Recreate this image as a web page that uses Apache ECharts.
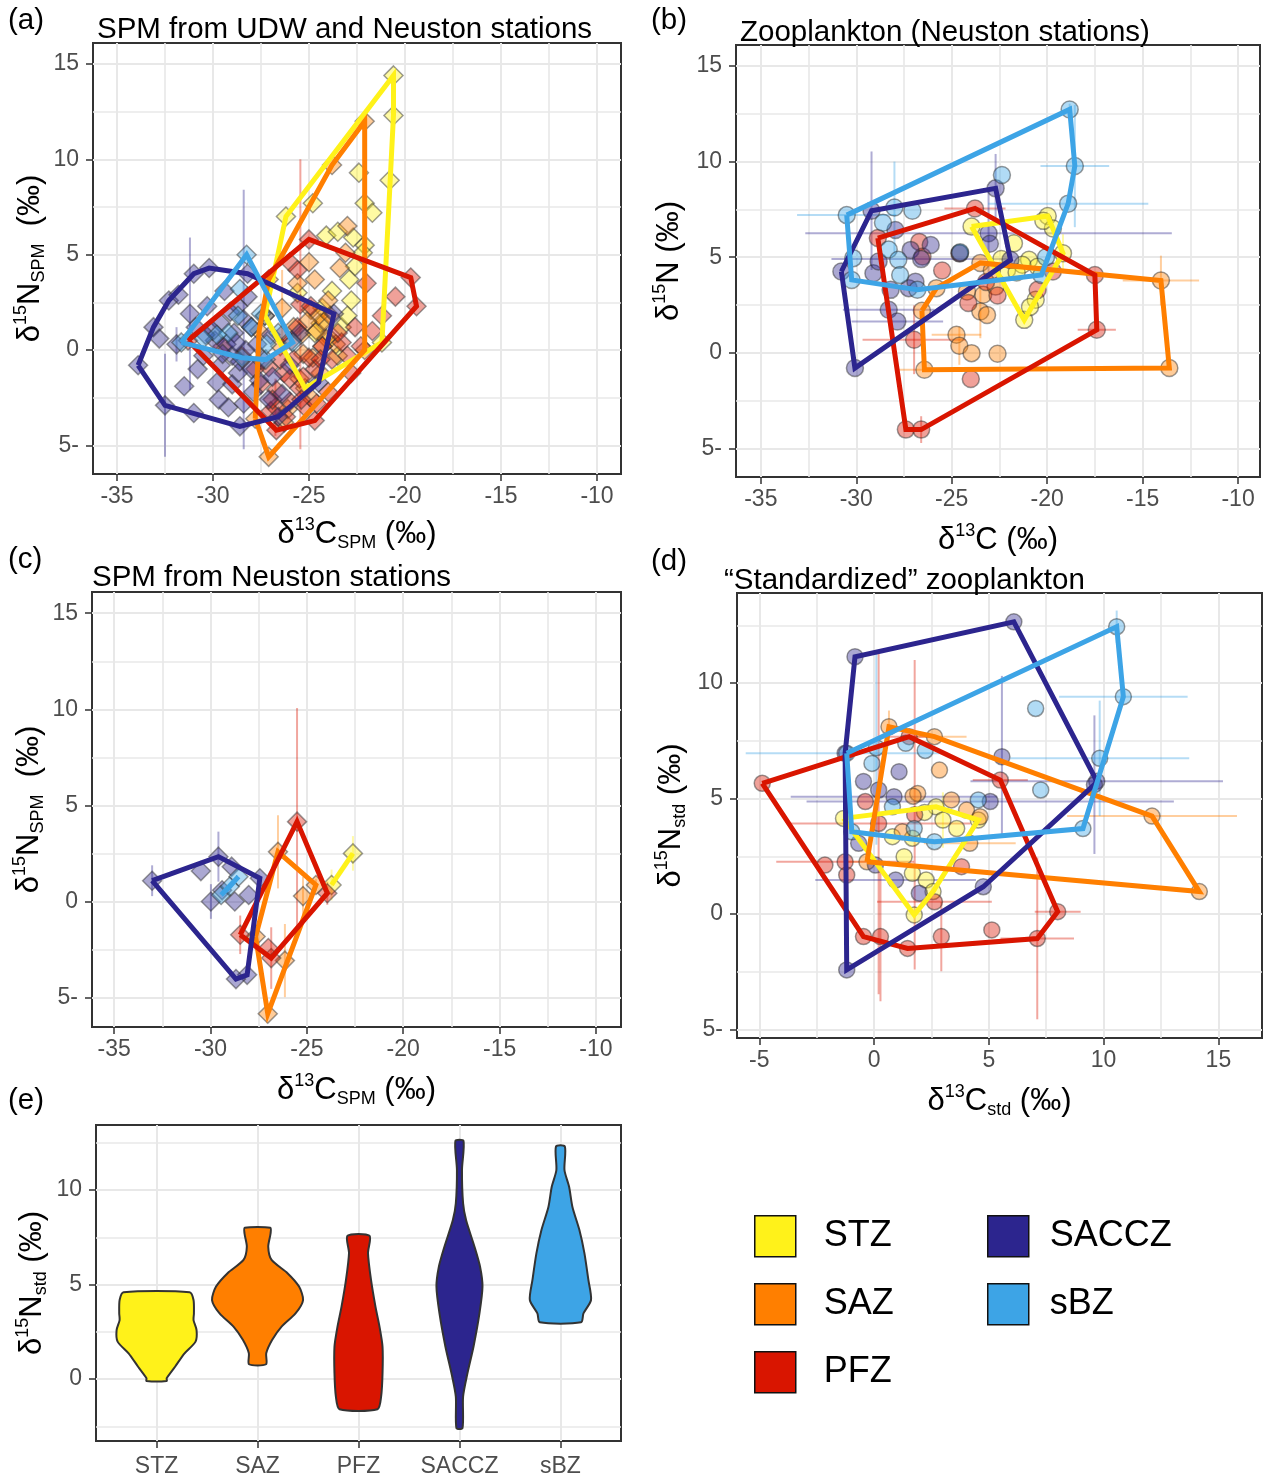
<!DOCTYPE html>
<html><head><meta charset="utf-8">
<script src="https://cdn.jsdelivr.net/npm/echarts@6/dist/echarts.min.js"></script>
<style>html,body{margin:0;padding:0;background:#fff}#c{width:1266px;height:1479px}</style>
</head><body><div id="c"></div>
<script>
// ---------------- DATA ----------------
const ZONES = ['STZ','SAZ','PFZ','SACCZ','sBZ'];
const COLORS = ['#FFF21A','#FF7F00','#D91500','#2C258E','#3DA4E6'];

// point arrays: [x, y, xErrHalf, yErrHalf]
// (a) SPM from UDW and Neuston stations
const aSTZ = [[-20.6,14.4,0,0],[-20.6,12.3,0,0],[-20.8,8.9,0,0],[-21.2,0.4,0,0],[-25.2,-2.0,0,0],[-27.3,1.8,0,0],[-26.2,7.0,0,0],
 [-22.4,9.3,0,0],[-22.1,7.7,0,0],[-21.7,7.2,0,0],[-24.8,7.7,0,0],[-24.1,6.0,0,0],[-23.5,6.2,0,0],[-22.7,5.9,0,0],[-22.1,5.5,0,0],
 [-22.2,5.1,0,0],[-22.9,3.7,0,0],[-23.8,3.1,0,0],[-22.8,2.6,0,0],[-23.3,1.2,0,0],[-23.5,-0.3,0,0],[-24.7,0.9,0,0],[-24.3,2.2,0,0],
 [-23.0,1.8,0,0],[-25.6,3.0,0,0],[-24.4,1.4,0,0],[-23.9,0.6,0,0],[-22.6,4.4,0,0]];
const aSAZ = [[-22.1,12.0,0,0],[-22.1,0.0,0,0],[-27.1,-5.6,0,0],[-27.8,-3.6,0,0],[-27.6,1.0,0,0],[-27.1,3.7,0,0],[-23.8,9.7,0,0],
 [-23.0,6.5,0,0],[-23.1,5.1,0,0],[-24.7,3.7,0,0],[-25.6,3.5,0,0],[-24.0,2.6,0,0],[-24.9,2.1,0,0],[-24.6,1.0,0,0],[-25.3,-0.2,0,0],
 [-24.9,-2.5,0,0],[-26.1,-3.1,0,0],[-26.3,-3.8,0,0],[-24.2,1.5,0,0],[-23.6,0.3,0,0],[-25.8,1.2,0,0],[-26.5,0.2,0,0],[-24.4,-1.2,0,0],
 [-23.4,4.3,0,0],[-25.0,4.6,0,0],[-26.4,2.2,0,2.0],[-24.5,1.8,0,0],[-24.1,0.6,0,0],[-25.1,1.5,0,0],[-23.9,1.8,0,0],[-24.8,-0.4,0,0],
 [-25.5,-1.5,0,0],[-24.3,0.2,0,0],[-25.4,0.8,0,0]];
const aPFZ = [[-25.0,5.8,0,0],[-19.7,3.8,0,0],[-19.4,2.3,0,0],[-24.7,-3.7,0,0],[-26.7,-4.2,0,0],[-31.3,0.5,0,0],[-26.0,4.6,0,0],
 [-25.6,4.2,0,0],[-21.7,1.0,0,0],[-23.3,0.4,0,0],[-22.6,1.2,0,0],[-26.3,-1.2,0,0],[-25.3,-1.4,0,0],[-26.7,-2.1,0,0],[-25.8,-0.5,0,0],
 [-24.7,-1.0,0,0],[-27.1,-0.9,0,0],[-23.8,-0.5,0,0],[-22.8,-1.2,0,0],[-25.45,2.4,0,7.6],[-24.3,0.2,0,0],[-26.0,-2.7,0,0],
 [-25.2,-3.0,0,0],[-27.5,-1.8,0,0],[-28.5,-0.3,0,0],[-29.5,0.2,0,0],[-24.0,-2.2,0,0],[-23.0,-0.3,0,0],[-25.6,1.2,0,0],
 [-26.4,0.8,0,0],[-24.9,2.3,0,0],[-26.75,-3.0,0,1.5],[-26.0,-1.5,0,0],[-25.5,-2.0,0,0],[-26.5,-0.5,0,0],[-25.0,-0.4,0,0],
 [-24.4,-0.5,0,0],[-25.9,0.5,0,0],[-26.2,-3.5,0,0],[-25.4,-2.6,0,0],[-27.0,-3.2,0,0],[-24.6,-2.8,0,0],[-23.5,0.9,0,0],
 [-22.3,0.2,0,0],[-21.2,1.8,0,0],[-20.5,2.8,0,0],[-22.0,3.5,0,0],[-27.8,-1.0,0,0],[-26.9,-2.6,0,0]];
const aSACCZ = [[-33.9,-0.8,0,0],[-32.5,-2.9,0,2.7],[-31.0,-3.3,0,0],[-28.6,-4.0,0,0],[-26.6,-3.5,0,0],[-24.5,-1.7,0,0],[-23.7,1.9,0,0],
 [-28.2,4.0,0,0],[-30.2,4.3,0,0],[-31.0,4.0,0,0],[-32.3,2.6,0,0],[-33.1,1.2,0,0],[-31.9,0.3,0,0.9],[-30.8,-1.0,0,0],[-29.8,-1.7,0,0],
 [-29.2,-3.0,0,0],[-28.7,-1.2,0,0],[-28.9,0.9,0,0],[-29.6,1.4,0,0],[-30.3,2.3,0,0],[-28.3,0.0,0,0],[-27.4,-0.5,0,0],[-27.9,-2.2,0,0],
 [-31.2,1.9,0,4.0],[-29.4,3.1,0,0],[-28.7,2.3,0,0],[-27.1,-2.6,0,0],[-28.4,1.6,0,6.8],[-29.9,0.5,0,0],[-30.5,-0.3,0,0],
 [-29.0,-0.3,0,0],[-28.0,1.2,0,0],[-27.0,0.8,0,0],[-26.0,-0.8,0,0],[-25.5,0.9,0,0],[-29.7,-2.6,0,0],[-31.5,-1.9,0,0],
 [-32.8,0.6,0,0],[-31.8,2.9,0,0],[-30.0,1.0,0,0],[-29.3,0.3,0,0],[-28.6,-0.6,0,0],[-29.0,-1.8,0,0],[-28.0,-1.0,0,0],
 [-27.6,-1.6,0,0],[-30.4,0.8,0,0],[-29.6,-0.8,0,0],[-28.4,-2.8,0,0],[-27.7,0.3,0,0],[-26.9,-1.4,0,0],[-26.4,-2.3,0,0],
 [-30.9,1.2,0,0],[-29.1,2.0,0,0],[-28.2,2.8,0,0],[-27.3,1.8,0,0],[-29.5,-0.2,0,0],[-28.8,0.4,0,0]];
const asBZ = [[-28.25,5.0,0,0],[-25.85,0.4,0,0],[-27.25,-0.5,0,0],[-28.5,-0.4,0,0],[-31.65,0.4,0,0],[-28.7,1.8,0,0],[-29.2,0.9,0,0],
 [-28.0,1.2,0,0],[-27.2,0.3,0,0],[-29.8,0.8,0,0],[-30.5,0.6,0,0],[-28.6,3.2,0,0],[-27.5,1.9,0,0],[-26.6,0.9,0,0]];

// (b) Zooplankton (Neuston stations)
const bSTZ = [[-23.96,6.6,0,0],[-19.97,7.15,0,0],[-19.17,5.2,0,1.0],[-21.2,1.72,0,0],[-22.1,4.33,0,0],[-19.7,6.5,0,0],[-20.95,4.86,0,0],
 [-20.6,2.77,0,0],[-20.9,2.4,0,0],[-21.74,5.73,0,0],[-20.5,4.5,0,0],[-21.3,4.6,0,0],[-22.4,4.9,0,0],[-20.2,6.9,0,0],[-21.6,4.2,0,0]];
const bSAZ = [[-23.5,4.7,0,0],[-14.04,3.78,2.0,1.3],[-13.6,-0.8,0,0],[-26.43,-0.89,1.5,0],[-26.56,2.2,0,0],[-25.8,3.38,0,0],
 [-24.75,0.94,1.3,0],[-24.6,0.37,0,1.0],[-23.96,-0.02,0,0],[-22.6,-0.05,0,0],[-23.35,3.03,0,0],[-23.5,2.16,0,1.4],[-23.15,1.98,0,0],
 [-22.7,3.46,0,0],[-24.2,3.2,0,0],[-22.9,4.3,0,0]];
const bPFZ = [[-23.78,7.55,1.6,0],[-17.5,4.07,0,0],[-17.4,1.2,1.0,0],[-26.6,-4.02,0,0.7],[-27.4,-4.02,0,0],[-28.87,6.0,0,0],
 [-26.7,5.8,0,0],[-26.53,5.03,0,0],[-26.97,0.68,2.7,1.8],[-24.13,2.6,0,0],[-24.0,-1.37,0,0],[-24.6,5.2,0,0],[-22.6,3.0,0,0],
 [-20.5,3.29,0,0],[-19.7,4.25,0,0],[-25.5,4.3,0,0],[-23.2,3.7,0,0]];
const bSACCZ = [[-22.7,8.6,0,1.8],[-21.92,4.86,0,0],[-30.07,-0.8,0,0],[-30.78,4.25,0,0],[-29.2,7.43,0,3.1],[-23.07,6.25,9.6,2.2],
 [-23.0,5.7,0,0],[-26.1,5.64,0,0],[-27.95,6.42,0,0],[-27.15,5.38,0,0],[-29.1,4.16,0,0],[-28.2,3.29,0,0],[-27.25,3.38,0,0],
 [-28.3,2.25,2.4,0],[-27.85,1.63,2.4,0],[-26.9,3.72,0,0],[-28.83,4.77,0,0],[-24.57,5.2,0,0],[-26.6,4.9,4.7,0]];
const bsBZ = [[-18.82,12.73,0,0.3],[-18.55,9.77,1.8,3.2],[-18.9,7.8,4.2,0],[-20.3,4.07,0,0],[-26.8,3.3,0,0],[-30.24,3.81,0,0],
 [-30.5,7.2,2.6,0],[-22.37,9.3,0,0],[-28.0,7.6,0,2.4],[-27.06,7.43,0,0],[-28.6,6.8,0,0],[-28.3,5.4,0,0],[-27.8,4.86,0,0],
 [-30.16,4.95,0,0],[-27.7,4.07,0,0],[-24.56,5.26,0,0],[-20.06,5.0,0,0]];

// (c) SPM from Neuston stations
const cSTZ = [[-22.61,2.52,0,0.9],[-23.72,0.88,0,0.8]];
const cSAZ = [[-26.5,2.6,0,1.9],[-24.53,0.88,0,0.3],[-27.03,-5.81,0,0],[-27.66,-1.8,0,0],[-26.14,-3.05,0,1.9],[-25.2,0.3,0,1.0]];
const cPFZ = [[-25.51,4.17,0,5.9],[-23.94,0.45,0,0.6],[-26.85,-2.92,0,1.6],[-28.46,-1.71,0,1.0],[-27.0,-2.4,0,0]];
const cSACCZ = [[-33.03,1.1,0,0.8],[-29.59,2.35,0,1.3],[-27.44,1.23,0,0],[-28.1,-3.79,0,0],[-28.68,-4.01,0,0],[-30.5,1.6,0,0],
 [-29.98,0.02,0,0.9],[-28.74,0.02,0,0],[-28.02,0.36,0,0],[-28.9,1.83,0,0],[-29.4,0.6,0,0]];
const csBZ = [[-29.45,0.36,0,0],[-28.55,1.31,0,0],[-29.0,0.8,0,0]];

// (d) "Standardized" zooplankton
const dSTZ = [[-1.33,4.14,0,0],[2.7,4.64,0,0],[4.54,4.07,0,0],[1.75,-0.04,0,0],[1.31,2.48,0,0],[1.67,1.76,0,0],[2.27,1.47,0,0],
 [3.0,4.07,0,1.2],[0.8,3.35,0,0],[2.57,0.97,0,0],[1.67,3.28,0,0],[2.2,4.4,0,0],[3.6,3.7,0,0]];
const dSAZ = [[0.65,8.11,0,0.7],[12.11,4.24,3.7,0],[14.17,0.97,0,0],[-0.31,2.26,1.0,0],[2.85,6.23,0,0],[2.63,7.68,1.4,0],
 [3.37,4.94,0,0],[4.03,4.5,0,0],[4.62,4.21,0,0],[1.9,5.22,0,0],[4.17,3.06,2.0,0],[1.23,3.56,0,0],[1.7,5.1,0,0]];
const dPFZ = [[-4.87,5.66,0,0],[1.53,7.68,1.2,0],[5.5,5.8,1.2,0],[8.0,0.1,1.0,0],[7.11,-1.06,1.6,3.5],[1.46,-1.49,0,0],[-0.46,-0.98,0,0],
 [-2.14,2.12,0,0],[-1.19,1.69,0,0],[-1.26,2.26,3.0,0],[-0.38,4.87,0,0],[0.28,-0.98,0,2.8],[2.93,-0.98,0,1.5],[5.13,-0.69,0,0],
 [2.63,0.53,2.5,0],[3.81,2.05,0,0],[0.2,3.92,4.0,7.4],[1.77,4.3,0,6.7]];
const dSACCZ = [[6.09,12.65,0,0],[9.7,5.75,5.5,0],[-1.19,-2.42,0,0],[-1.26,6.96,0,0],[-0.83,11.14,0,0],[5.57,6.81,0,3.5],
 [5.06,4.87,8.0,0],[1.09,6.16,0,0],[-0.46,5.74,0,0],[0.87,5.08,4.5,0],[0.2,5.37,0,0],[4.76,1.18,0,0],[1.97,0.9,0,0],
 [0.94,1.47,3.5,0],[0.06,2.12,0,0],[-0.67,3.06,0,0],[9.6,5.6,0,3.0]];
const dsBZ = [[10.57,12.44,0,0.7],[10.86,9.41,2.8,0],[9.83,6.74,3.9,2.5],[9.1,3.7,0,0],[2.63,3.13,0,0],[-0.97,3.56,0,0],
 [-1.19,6.96,4.4,0],[7.04,8.9,0,0],[7.26,5.37,0,0],[2.23,7.08,0,0],[-0.09,6.52,0,0],[1.38,7.39,0,0],[4.54,4.94,0,0],
 [1.75,3.7,0,0],[0.8,4.64,0,0],[0.1,7.2,0,4.2]];

// (e) violin outlines: [delta15N_std, half width in category units]
const eSTZ = [[4.59,0.327],[4.18,0.366],[3.47,0.37],[3.12,0.366],[2.59,0.396],[1.98,0.386],[1.36,0.277],[0.65,0.183],[0.04,0.1],[-0.1,0.1]];
const eSAZ = [[8.0,0.126],[7.7,0.129],[7.0,0.106],[6.3,0.139],[5.6,0.297],[4.89,0.411],[4.18,0.451],[3.47,0.376],[2.77,0.238],[2.06,0.144],[1.36,0.086],[0.78,0.084]];
const ePFZ = [[7.58,0.109],[6.65,0.094],[5.24,0.124],[3.83,0.168],[2.77,0.208],[1.71,0.238],[0.3,0.238],[-0.93,0.224],[-1.6,0.188]];
const eSACCZ = [[12.6,0.04],[11.06,0.025],[9.3,0.036],[8.4,0.066],[7.0,0.149],[5.94,0.204],[4.89,0.228],[3.47,0.198],[1.71,0.139],[0.3,0.079],[-0.93,0.036],[-2.6,0.03]];
const esBZ = [[12.3,0.044],[11.06,0.04],[10.17,0.086],[9.1,0.119],[7.88,0.188],[6.65,0.238],[5.24,0.277],[4.18,0.303],[3.47,0.228],[3.0,0.204]];

// tick values
const ISO_X_MAJOR = [-35,-30,-25,-20,-15,-10];
const ISO_X_MINOR = [-32.5,-27.5,-22.5,-17.5,-12.5];
const ISO_Y_MAJOR = [-5,0,5,10,15];
const ISO_Y_MINOR = [-2.5,2.5,7.5,12.5];
const STD_X_MAJOR = [-5,0,5,10,15];
const STD_X_MINOR = [-2.5,2.5,7.5,12.5];
const STD_Y_MAJOR = [-5,0,5,10];
const STD_Y_MINOR = [-2.5,2.5,7.5,12.5];
const E_X_MAJOR = [0,1,2,3,4];
const E_Y_MAJOR = [0,5,10];
const E_Y_MINOR = [-2.5,2.5,7.5,12.5];

// ---------------- BUILD ----------------
const FF = '"Liberation Sans", Arial, Helvetica, sans-serif';
function rgba(hex,a){const n=parseInt(hex.slice(1),16);return 'rgba('+(n>>16&255)+','+(n>>8&255)+','+(n&255)+','+a+')';}
const RICH = {
  m:{fontSize:31,lineHeight:36,color:'#000',fontFamily:FF},
  p:{fontSize:18,lineHeight:18,verticalAlign:'top',color:'#000',fontFamily:FF},
  b:{fontSize:18,lineHeight:18,verticalAlign:'bottom',color:'#000',fontFamily:FF}
};
const fmtY = v => v < 0 ? (-v) + '-' : String(v);
const fmtX = v => String(v);

const GRIDS = [
  {left:93, top:43, width:528, height:431},
  {left:736, top:45, width:524, height:432},
  {left:92, top:592, width:529, height:435},
  {left:737, top:593, width:525, height:445},
  {left:96, top:1125, width:525, height:316}
];

function axisPair(dim, gi, min, max, major, minor, name, gap, fmt, margin){
  const pos = dim==='x' ? ['bottom','top'] : ['left','right'];
  const a = {type:'value', gridIndex:gi, min:min, max:max, position:pos[0],
    axisLine:{show:false, onZero:false},
    axisTick:{show:true, customValues:major, length:7, lineStyle:{color:'#333',width:1.5}},
    axisLabel:{customValues:major, color:'#4D4D4D', fontSize:23, fontFamily:FF, margin:margin||(dim==='x'?11:14), formatter:fmt},
    splitLine:{show:true, lineStyle:{color:'#E8E8E8', width:2}},
    name:name, nameLocation:'middle', nameGap:gap, nameTextStyle:{rich:RICH}
  };
  const b = {type:'value', gridIndex:gi, min:min, max:max, position:pos[1],
    axisLine:{show:false, onZero:false},
    axisTick:{show:false, customValues:minor||[]},
    axisLabel:{show:false, customValues:minor||[]},
    splitLine:{show:!!minor, lineStyle:{color:'#E8E8E8', width:1.6}}
  };
  return [a,b];
}

const NAME_CSPM = '{m|δ}{p|13}{m|C}{b|SPM}{m| (‰)}';
const NAME_NSPM = '{m|δ}{p|15}{m|N}{b|SPM}{m|  (‰)}';
const xAxes = [], yAxes = [];
xAxes.push(...axisPair('x',0,-36.25,-8.75,ISO_X_MAJOR,ISO_X_MINOR,NAME_CSPM,42,fmtX));
yAxes.push(...axisPair('y',0,-6.5,16.1,ISO_Y_MAJOR,ISO_Y_MINOR,NAME_NSPM,45,fmtY));
xAxes.push(...axisPair('x',1,-36.3,-8.85,ISO_X_MAJOR,ISO_X_MINOR,'{m|δ}{p|13}{m|C (‰)}',45,fmtX));
yAxes.push(...axisPair('y',1,-6.5,16.1,ISO_Y_MAJOR,ISO_Y_MINOR,'{m|δ}{p|15}{m|N (‰)}',49,fmtY));
xAxes.push(...axisPair('x',2,-36.15,-8.7,ISO_X_MAJOR,ISO_X_MINOR,NAME_CSPM,45,fmtX));
yAxes.push(...axisPair('y',2,-6.5,16.1,ISO_Y_MAJOR,ISO_Y_MINOR,NAME_NSPM,45,fmtY));
xAxes.push(...axisPair('x',3,-5.97,16.9,STD_X_MAJOR,STD_X_MINOR,'{m|δ}{p|13}{m|C}{b|std}{m| (‰)}',45,fmtX));
yAxes.push(...axisPair('y',3,-5.37,13.9,STD_Y_MAJOR,STD_Y_MINOR,'{m|δ}{p|15}{m|N}{b|std}{m| (‰)}',48,fmtY));
xAxes.push(...axisPair('x',4,-0.6,4.6,E_X_MAJOR,null,'',30,v=>ZONES[Math.round(v)],14));
yAxes.push(...axisPair('y',4,-3.28,13.44,E_Y_MAJOR,E_Y_MINOR,'{m|δ}{p|15}{m|N}{b|std}{m| (‰)}',46,fmtY));

function hull(pts){
  const p = pts.map(q=>[q[0],q[1]]).sort((a,b)=>a[0]-b[0]||a[1]-b[1]);
  if (p.length < 3) return p;
  const cr=(o,a,b)=>(a[0]-o[0])*(b[1]-o[1])-(a[1]-o[1])*(b[0]-o[0]);
  const lo=[], up=[];
  for (const q of p){ while(lo.length>=2 && cr(lo[lo.length-2],lo[lo.length-1],q)<=0) lo.pop(); lo.push(q); }
  for (let i=p.length-1;i>=0;i--){ const q=p[i]; while(up.length>=2 && cr(up[up.length-2],up[up.length-1],q)<=0) up.pop(); up.push(q); }
  lo.pop(); up.pop();
  const h = lo.concat(up); h.push(h[0]); return h;
}

const PANELS = [
  {g:0, shape:'diamond', size:19, sets:[aSTZ,aSAZ,aPFZ,aSACCZ,asBZ]},
  {g:1, shape:'circle', size:17, sets:[bSTZ,bSAZ,bPFZ,bSACCZ,bsBZ]},
  {g:2, shape:'diamond', size:19, sets:[cSTZ,cSAZ,cPFZ,cSACCZ,csBZ]},
  {g:3, shape:'circle', size:16, sets:[dSTZ,dSAZ,dPFZ,dSACCZ,dsBZ]}
];
const series = [];
PANELS.forEach(P => {
  const xi = 2*P.g, yi = 2*P.g;
  P.sets.forEach((pts, zi) => {
    const col = COLORS[zi];
    series.push({type:'custom', name:'err'+P.g+zi, xAxisIndex:xi, yAxisIndex:yi, z:2, silent:true,
      data:pts, encode:{x:0,y:1},
      renderItem:(params, api) => {
        const x=api.value(0), y=api.value(1), ex=api.value(2), ey=api.value(3);
        const ch=[]; const st={stroke:rgba(col,0.38), lineWidth:2};
        if (ey>0){ const a=api.coord([x,y-ey]), b=api.coord([x,y+ey]); ch.push({type:'line', shape:{x1:a[0],y1:a[1],x2:b[0],y2:b[1]}, style:st}); }
        if (ex>0){ const a=api.coord([x-ex,y]), b=api.coord([x+ex,y]); ch.push({type:'line', shape:{x1:a[0],y1:a[1],x2:b[0],y2:b[1]}, style:st}); }
        return {type:'group', children:ch};
      }});
  });
  P.sets.forEach((pts, zi) => {
    series.push({type:'scatter', name:'pts'+P.g+zi, xAxisIndex:xi, yAxisIndex:yi, z:3, silent:true,
      symbol:P.shape, symbolSize:P.size, data:pts.map(p=>[p[0],p[1]]),
      itemStyle:{color:rgba(COLORS[zi],0.5), borderColor:'rgba(45,45,45,0.6)', borderWidth:1.5}});
  });
  P.sets.forEach((pts, zi) => {
    series.push({type:'line', name:'hull'+P.g+zi, xAxisIndex:xi, yAxisIndex:yi, z:4, silent:true,
      symbol:'none', data:hull(pts), lineStyle:{color:COLORS[zi], width:5, join:'miter'}, itemStyle:{color:COLORS[zi]}});
  });
});

const VIOLINS = [eSTZ,eSAZ,ePFZ,eSACCZ,esBZ];
ZONES.forEach((z, i) => {
  series.push({type:'custom', name:z, xAxisIndex:8, yAxisIndex:8, z:3, silent:true,
    data:[[i,0]], encode:{x:0,y:1}, itemStyle:{color:COLORS[i]},
    renderItem:(params, api) => {
      const prof = VIOLINS[i];
      const right = prof.map(r => api.coord([i + r[1], r[0]]));
      const left = prof.slice().reverse().map(r => api.coord([i - r[1], r[0]]));
      return {type:'polygon', shape:{points:right.concat(left), smooth:0.25},
        style:{fill:COLORS[i], stroke:'#333', lineWidth:2}};
    }});
});

const TT = {fontSize:29.5, fontWeight:'normal', color:'#000', fontFamily:FF};
const titles = [
  {text:'(a)', left:8, top:6}, {text:'SPM from UDW and Neuston stations', left:97, top:15},
  {text:'(b)', left:651, top:6}, {text:'Zooplankton (Neuston stations)', left:740, top:18},
  {text:'(c)', left:8, top:545}, {text:'SPM from Neuston stations', left:92, top:563},
  {text:'(d)', left:651, top:547}, {text:'“Standardized” zooplankton', left:724, top:566},
  {text:'(e)', left:8, top:1086}
].map(t => Object.assign({padding:0, textStyle:TT}, t));

function legend(left, names, gap){
  return {orient:'vertical', left:left, top:1215, data:names, icon:'rect', itemWidth:41, itemHeight:41, itemGap:25.5,
    selectedMode:false, padding:0, itemStyle:{borderColor:'#111', borderWidth:1.5},
    textStyle:{fontSize:36, color:'#000', fontFamily:FF, padding:[0,0,0,gap]}};
}

const option = {
  animation:false,
  backgroundColor:'#fff',
  title:titles,
  grid:GRIDS.map(g => Object.assign({show:true, borderColor:'#333', borderWidth:2, backgroundColor:'transparent', containLabel:false}, g)),
  xAxis:xAxes, yAxis:yAxes,
  legend:[legend(754, ['STZ','SAZ','PFZ'], 23), legend(987, ['SACCZ','sBZ'], 16)],
  series:series
};
echarts.init(document.getElementById('c'), null, {renderer:'canvas'}).setOption(option);
</script></body></html>
